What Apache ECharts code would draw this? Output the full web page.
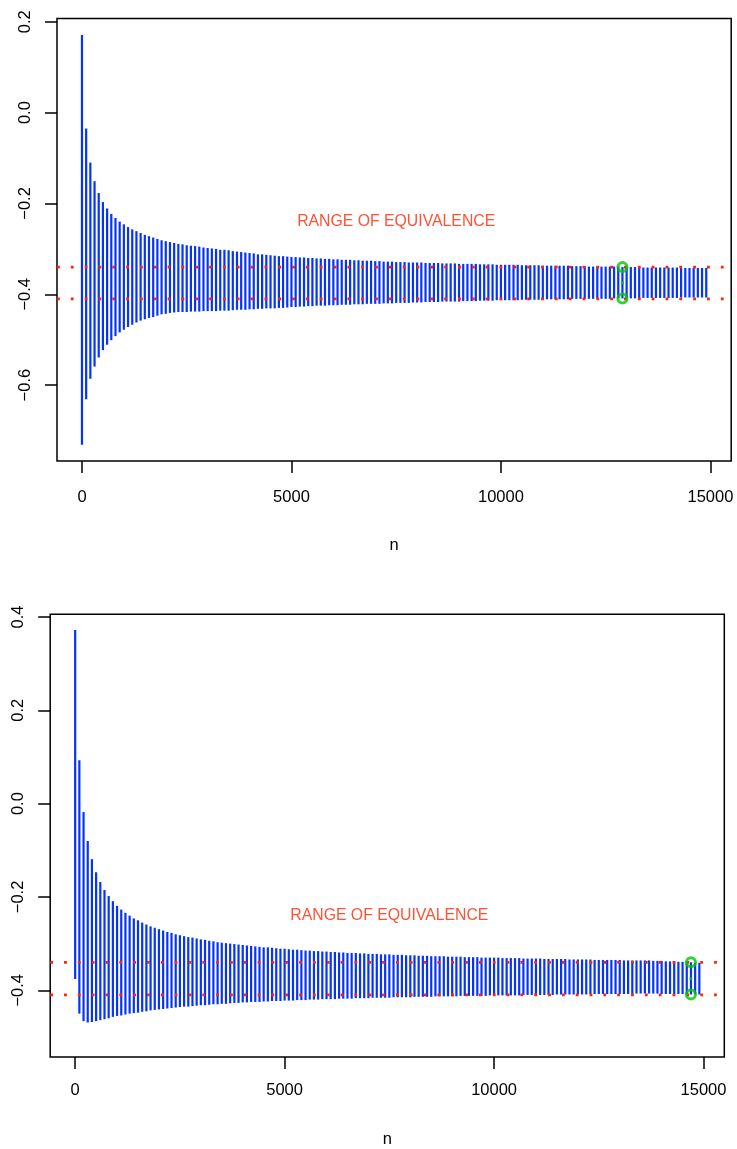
<!DOCTYPE html>
<html>
<head>
<meta charset="utf-8">
<script src="https://cdn.jsdelivr.net/npm/echarts@6/dist/echarts.min.js"></script>
<style>
html, body { margin: 0; padding: 0; background: #ffffff; }
#chart { width: 737px; height: 1149px; }
</style>
</head>
<body>
<div id="chart"></div>
<script>
// Sample sizes at which each confidence interval was computed
const sampleSizes = [
  0,100,200,300,400,500,600,700,800,900,1000,1100,1200,1300,1400,1500,1600,1700,1800,1900,
  2000,2100,2200,2300,2400,2500,2600,2700,2800,2900,3000,3100,3200,3300,3400,3500,3600,3700,3800,3900,
  4000,4100,4200,4300,4400,4500,4600,4700,4800,4900,5000,5100,5200,5300,5400,5500,5600,5700,5800,5900,
  6000,6100,6200,6300,6400,6500,6600,6700,6800,6900,7000,7100,7200,7300,7400,7500,7600,7700,7800,7900,
  8000,8100,8200,8300,8400,8500,8600,8700,8800,8900,9000,9100,9200,9300,9400,9500,9600,9700,9800,9900,
  10000,10100,10200,10300,10400,10500,10600,10700,10800,10900,11000,11100,11200,11300,11400,11500,11600,11700,11800,11900,
  12000,12100,12200,12300,12400,12500,12600,12700,12800,12900,13000,13100,13200,13300,13400,13500,13600,13700,13800,13900,
  14000,14100,14200,14300,14400,14500,14600,14700,14800,14900
];

// Upper panel: interval limits
const upperA = [
  0.171,-0.035,-0.110,-0.151,-0.177,-0.197,-0.211,-0.223,-0.232,-0.240,
  -0.246,-0.252,-0.257,-0.261,-0.265,-0.269,-0.272,-0.275,-0.278,-0.281,
  -0.283,-0.285,-0.287,-0.289,-0.290,-0.292,-0.293,-0.294,-0.295,-0.297,
  -0.298,-0.299,-0.300,-0.302,-0.302,-0.303,-0.305,-0.306,-0.307,-0.308,
  -0.309,-0.310,-0.312,-0.312,-0.313,-0.314,-0.315,-0.316,-0.316,-0.317,
  -0.318,-0.318,-0.319,-0.319,-0.320,-0.320,-0.321,-0.321,-0.322,-0.322,
  -0.323,-0.323,-0.324,-0.324,-0.324,-0.325,-0.325,-0.326,-0.326,-0.326,
  -0.327,-0.327,-0.328,-0.328,-0.328,-0.329,-0.329,-0.329,-0.330,-0.330,
  -0.330,-0.330,-0.331,-0.331,-0.331,-0.331,-0.332,-0.332,-0.332,-0.332,
  -0.333,-0.333,-0.333,-0.333,-0.333,-0.334,-0.334,-0.334,-0.334,-0.335,
  -0.335,-0.335,-0.335,-0.335,-0.335,-0.336,-0.336,-0.336,-0.336,-0.336,
  -0.337,-0.337,-0.337,-0.337,-0.337,-0.337,-0.337,-0.338,-0.338,-0.338,
  -0.338,-0.339,-0.339,-0.339,-0.339,-0.339,-0.339,-0.339,-0.339,-0.340,
  -0.340,-0.340,-0.340,-0.340,-0.341,-0.341,-0.341,-0.341,-0.341,-0.341,
  -0.341,-0.341,-0.341,-0.342,-0.342,-0.342,-0.342,-0.342,-0.342,-0.342
];
const lowerA = [
  -0.731,-0.631,-0.586,-0.559,-0.539,-0.523,-0.511,-0.501,-0.492,-0.484,
  -0.478,-0.472,-0.467,-0.462,-0.458,-0.455,-0.452,-0.450,-0.447,-0.444,
  -0.443,-0.441,-0.440,-0.439,-0.439,-0.439,-0.438,-0.438,-0.438,-0.437,
  -0.437,-0.437,-0.437,-0.436,-0.436,-0.436,-0.435,-0.434,-0.434,-0.434,
  -0.433,-0.433,-0.432,-0.432,-0.431,-0.431,-0.431,-0.430,-0.430,-0.429,
  -0.428,-0.428,-0.427,-0.427,-0.426,-0.426,-0.425,-0.425,-0.425,-0.424,
  -0.424,-0.424,-0.423,-0.423,-0.423,-0.422,-0.422,-0.422,-0.421,-0.421,
  -0.421,-0.421,-0.420,-0.420,-0.420,-0.419,-0.419,-0.419,-0.419,-0.418,
  -0.418,-0.418,-0.417,-0.417,-0.417,-0.417,-0.416,-0.416,-0.416,-0.416,
  -0.416,-0.415,-0.415,-0.415,-0.415,-0.414,-0.414,-0.414,-0.414,-0.413,
  -0.413,-0.413,-0.413,-0.413,-0.413,-0.412,-0.412,-0.412,-0.412,-0.412,
  -0.412,-0.411,-0.411,-0.411,-0.411,-0.411,-0.411,-0.410,-0.410,-0.410,
  -0.410,-0.410,-0.410,-0.410,-0.410,-0.410,-0.410,-0.409,-0.409,-0.409,
  -0.409,-0.409,-0.409,-0.409,-0.408,-0.408,-0.408,-0.408,-0.408,-0.408,
  -0.408,-0.408,-0.408,-0.407,-0.407,-0.407,-0.407,-0.407,-0.407,-0.407
];

// Lower panel: interval limits
const upperB = [
  0.372,0.093,-0.018,-0.080,-0.119,-0.147,-0.168,-0.185,-0.198,-0.209,
  -0.219,-0.227,-0.234,-0.240,-0.246,-0.250,-0.255,-0.259,-0.263,-0.266,
  -0.269,-0.272,-0.275,-0.277,-0.280,-0.282,-0.284,-0.286,-0.287,-0.289,
  -0.291,-0.292,-0.294,-0.295,-0.297,-0.298,-0.299,-0.300,-0.301,-0.302,
  -0.303,-0.304,-0.305,-0.306,-0.307,-0.308,-0.308,-0.309,-0.310,-0.311,
  -0.311,-0.312,-0.313,-0.313,-0.314,-0.315,-0.315,-0.316,-0.316,-0.317,
  -0.317,-0.318,-0.318,-0.319,-0.319,-0.320,-0.320,-0.320,-0.321,-0.321,
  -0.322,-0.322,-0.322,-0.323,-0.323,-0.323,-0.324,-0.324,-0.324,-0.325,
  -0.325,-0.325,-0.326,-0.326,-0.326,-0.327,-0.327,-0.327,-0.327,-0.328,
  -0.328,-0.328,-0.328,-0.329,-0.329,-0.329,-0.329,-0.330,-0.330,-0.330,
  -0.330,-0.330,-0.331,-0.331,-0.331,-0.331,-0.331,-0.332,-0.332,-0.332,
  -0.332,-0.332,-0.333,-0.333,-0.333,-0.333,-0.333,-0.333,-0.334,-0.334,
  -0.334,-0.334,-0.334,-0.334,-0.335,-0.335,-0.335,-0.335,-0.335,-0.335,
  -0.335,-0.336,-0.336,-0.336,-0.336,-0.336,-0.336,-0.336,-0.337,-0.337,
  -0.337,-0.338,-0.338,-0.338,-0.339,-0.339,-0.339,-0.340,-0.341,-0.341
];
const lowerB = [
  -0.376,-0.450,-0.466,-0.469,-0.468,-0.466,-0.464,-0.462,-0.460,-0.457,
  -0.455,-0.454,-0.452,-0.450,-0.449,-0.448,-0.446,-0.445,-0.443,-0.442,
  -0.441,-0.440,-0.439,-0.438,-0.437,-0.436,-0.435,-0.435,-0.434,-0.433,
  -0.432,-0.432,-0.431,-0.430,-0.430,-0.429,-0.429,-0.428,-0.427,-0.427,
  -0.426,-0.426,-0.425,-0.425,-0.425,-0.424,-0.424,-0.423,-0.423,-0.423,
  -0.422,-0.422,-0.422,-0.421,-0.421,-0.421,-0.420,-0.420,-0.420,-0.419,
  -0.419,-0.419,-0.419,-0.418,-0.418,-0.418,-0.418,-0.417,-0.417,-0.417,
  -0.417,-0.416,-0.416,-0.416,-0.416,-0.416,-0.415,-0.415,-0.415,-0.415,
  -0.415,-0.414,-0.414,-0.414,-0.414,-0.414,-0.413,-0.413,-0.413,-0.413,
  -0.413,-0.413,-0.412,-0.412,-0.412,-0.412,-0.412,-0.412,-0.412,-0.411,
  -0.411,-0.411,-0.411,-0.411,-0.411,-0.411,-0.411,-0.410,-0.410,-0.410,
  -0.410,-0.410,-0.410,-0.410,-0.410,-0.409,-0.409,-0.409,-0.409,-0.409,
  -0.409,-0.409,-0.409,-0.408,-0.408,-0.408,-0.408,-0.408,-0.408,-0.408,
  -0.408,-0.408,-0.408,-0.408,-0.407,-0.407,-0.407,-0.407,-0.407,-0.407,
  -0.408,-0.408,-0.408,-0.408,-0.408,-0.408,-0.408,-0.409,-0.409,-0.409
];

// Equivalence range and the sample size at which each interval first falls inside it
const equivalenceBounds = [-0.41, -0.34];
const stopSizeA = 12900;
const stopSizeB = 14700;
const equivText = 'RANGE OF EQUIVALENCE';
const equivTextAt = [7500, -0.24];

// Axis ticks
const xTicks = [0, 5000, 10000, 15000];
const yTicksA = [-0.6, -0.4, -0.2, 0, 0.2];
const yTicksB = [-0.4, -0.2, 0, 0.2, 0.4];
const xName = 'n';

const BLUE = '#0433ff';
const RED = '#ff2600';
const GREEN = '#00c800';
const FONT = '"Liberation Sans", Arial, Helvetica, sans-serif';

const xRange = [-596, 15496];
const yRangeA = [-0.767, 0.207];
const yRangeB = [-0.543, 0.406];

function fmtY(v) {
  const s = Math.abs(v).toFixed(1);
  return v < -1e-9 ? '\u2212' + s : s;
}

function buildIntervals(upper, lower) {
  return sampleSizes.map((n, i) => [n, lower[i], upper[i]]);
}

function renderInterval(params, api) {
  const x = api.value(0);
  const p1 = api.coord([x, api.value(2)]);
  const p2 = api.coord([x, api.value(1)]);
  return {
    type: 'line',
    shape: { x1: p1[0], y1: p1[1], x2: p2[0], y2: p2[1] },
    style: { stroke: BLUE, lineWidth: 2.2, lineCap: 'butt' }
  };
}

function xAxisFor(gridIndex, labelMargin, nameGap) {
  return {
    type: 'value', gridIndex: gridIndex, position: 'bottom',
    min: xRange[0], max: xRange[1],
    axisLine: { show: false, onZero: false },
    splitLine: { show: false },
    axisTick: { show: true, inside: false, length: 12, customValues: xTicks,
                lineStyle: { color: '#000', width: 1.5 } },
    axisLabel: { show: true, customValues: xTicks, margin: labelMargin,
                 color: '#000', fontSize: 16.5, fontFamily: FONT,
                 formatter: v => String(Math.round(v)) },
    name: xName, nameLocation: 'middle', nameGap: nameGap,
    nameTextStyle: { color: '#000', fontSize: 16.5, fontFamily: FONT }
  };
}

function yAxisFor(gridIndex, range, ticks) {
  return {
    type: 'value', gridIndex: gridIndex, position: 'left',
    min: range[0], max: range[1],
    axisLine: { show: false, onZero: false },
    splitLine: { show: false },
    axisTick: { show: true, inside: false, length: 12, customValues: ticks,
                lineStyle: { color: '#000', width: 1.5 } },
    axisLabel: { show: true, customValues: ticks, rotate: 90, margin: 23.5,
                 color: '#000', fontSize: 16.5, fontFamily: FONT,
                 formatter: fmtY }
  };
}

function panelSeries(idx, upper, lower, stopSize) {
  const k = sampleSizes.indexOf(stopSize);
  const hi = upper[k], lo = lower[k];
  const seriesList = [
    {
      type: 'custom', xAxisIndex: idx, yAxisIndex: idx,
      renderItem: renderInterval,
      data: buildIntervals(upper, lower),
      encode: { x: 0, y: [1, 2] },
      silent: true, z: 2
    }
  ];
  equivalenceBounds.forEach(b => {
    seriesList.push({
      type: 'line', xAxisIndex: idx, yAxisIndex: idx,
      data: [[xRange[0], b], [xRange[1], b]],
      showSymbol: false, symbol: 'none', silent: true, z: 3,
      lineStyle: { color: RED, width: 2.8, type: [2.8, 11.03], cap: 'butt' }
    });
  });
  seriesList.push({
    type: 'scatter', xAxisIndex: idx, yAxisIndex: idx,
    data: [[stopSize, hi], [stopSize, lo]],
    symbol: 'circle', symbolSize: 9, silent: true, z: 5,
    itemStyle: { color: 'rgba(0,0,0,0)', borderColor: GREEN, borderWidth: 3 }
  });
  seriesList.push({
    type: 'scatter', xAxisIndex: idx, yAxisIndex: idx,
    data: [[stopSize, (hi + lo) / 2]],
    symbol: 'circle', symbolSize: 3, silent: true, z: 5,
    itemStyle: { color: GREEN }
  });
  seriesList.push({
    type: 'scatter', xAxisIndex: idx, yAxisIndex: idx,
    data: [equivTextAt], symbolSize: 0, silent: true, z: 6,
    label: { show: true, position: 'inside', formatter: equivText,
             color: RED, fontSize: 15.8, fontFamily: FONT }
  });
  return seriesList;
}

const chart = echarts.init(document.getElementById('chart'), null, { renderer: 'canvas' });
chart.setOption({
  animation: false,
  backgroundColor: '#ffffff',
  grid: [
    { left: 57, top: 18.6, width: 674.2, height: 442.4,
      show: true, borderColor: '#000', borderWidth: 1.5, backgroundColor: 'transparent' },
    { left: 50.2, top: 614.2, width: 674.1, height: 443.0,
      show: true, borderColor: '#000', borderWidth: 1.5, backgroundColor: 'transparent' }
  ],
  xAxis: [xAxisFor(0, 28, 76), xAxisFor(1, 25, 74)],
  yAxis: [yAxisFor(0, yRangeA, yTicksA), yAxisFor(1, yRangeB, yTicksB)],
  series: panelSeries(0, upperA, lowerA, stopSizeA).concat(panelSeries(1, upperB, lowerB, stopSizeB))
});
</script>
</body>
</html>
